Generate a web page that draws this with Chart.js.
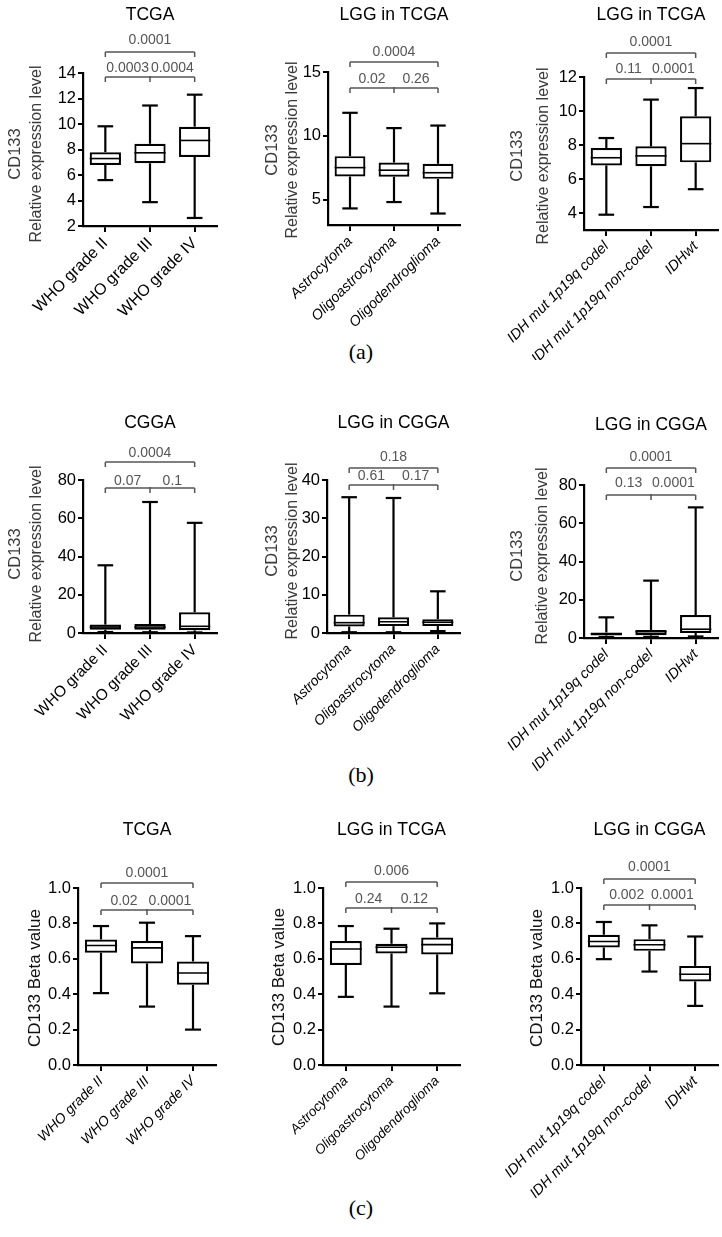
<!DOCTYPE html>
<html>
<head>
<meta charset="utf-8">
<script src="https://cdn.jsdelivr.net/npm/chart.js@4.4.1/dist/chart.umd.min.js"></script>
<style>
  body { margin: 0; background: #fff; }
  #fig { position: relative; width: 722px; height: 1237px; overflow: hidden; }
  #fig canvas { position: absolute; }
  .cap { position: absolute; width: 80px; text-align: center; font-family: 'Liberation Serif', 'Times New Roman', serif; font-size: 22px; color: #000; line-height: 26px; }
</style>
</head>
<body>
<div id="fig">
  <div class="cap" style="left:321px; top:339px;">(a)</div>
  <div class="cap" style="left:321px; top:762px;">(b)</div>
  <div class="cap" style="left:321px; top:1195px;">(c)</div>
</div>
<script>
const FONT = "'Liberation Sans', Arial, sans-serif";

const gradeLabels = ['WHO grade II', 'WHO grade III', 'WHO grade IV'];
const histLabels = ['Astrocytoma', 'Oligoastrocytoma', 'Oligodendroglioma'];
const idhLabels = ['IDH mut 1p19q codel', 'IDH mut 1p19q non-codel', 'IDHwt'];

// (a) expression, TCGA by grade
const a1Min = [5.6, 3.87, 2.63];
const a1Q1 = [6.79, 6.92, 7.42];
const a1Med = [7.29, 7.74, 8.71];
const a1Q3 = [7.79, 8.45, 9.79];
const a1Max = [9.82, 11.45, 12.3];
const a1Ticks = [2, 4, 6, 8, 10, 12, 14];
const a1P = ['0.0003', '0.0004', '0.0001'];

// (a) LGG in TCGA by histology
const a2Min = [4.3, 4.8, 3.9];
const a2Q1 = [6.8, 6.78, 6.62];
const a2Med = [7.5, 7.3, 7.1];
const a2Q3 = [8.4, 7.9, 7.8];
const a2Max = [11.8, 10.6, 10.8];
const a2Ticks = [5, 10, 15];
const a2P = ['0.02', '0.26', '0.0004'];

// (a) LGG in TCGA by IDH / 1p19q
const a3Min = [3.9, 4.35, 5.4];
const a3Q1 = [6.8, 6.75, 6.98];
const a3Med = [7.25, 7.36, 8.08];
const a3Q3 = [7.82, 7.92, 9.69];
const a3Max = [8.41, 10.67, 11.35];
const a3Ticks = [4, 6, 8, 10, 12];
const a3P = ['0.11', '0.0001', '0.0001'];

// (b) expression, CGGA by grade
const b1Min = [0.5, 0.4, 0.3];
const b1Q1 = [1.7, 1.7, 1.4];
const b1Med = [3.1, 3.1, 3.5];
const b1Q3 = [4.4, 4.7, 10.8];
const b1Max = [35.4, 68.5, 57.6];
const b1Ticks = [0, 20, 40, 60, 80];
const b1P = ['0.07', '0.1', '0.0004'];

// (b) LGG in CGGA by histology
const b2Min = [0.2, 0.2, 0.5];
const b2Q1 = [1.7, 1.8, 1.8];
const b2Med = [2.7, 2.95, 2.8];
const b2Q3 = [4.8, 4.1, 3.6];
const b2Max = [35.5, 35.3, 10.9];
const b2Ticks = [0, 10, 20, 30, 40];
const b2P = ['0.61', '0.17', '0.18'];

// (b) LGG in CGGA by IDH / 1p19q
const b3Min = [0.5, 0.6, 0.8];
const b3Q1 = [1.3, 1.4, 2.6];
const b3Med = [2.2, 3.3, 4.6];
const b3Q3 = [2.9, 4.2, 12];
const b3Max = [10.8, 30, 68.3];
const b3Ticks = [0, 20, 40, 60, 80];
const b3P = ['0.13', '0.0001', '0.0001'];

// (c) methylation beta, TCGA by grade
const c1Min = [0.406, 0.33, 0.2];
const c1Q1 = [0.634, 0.574, 0.453];
const c1Med = [0.675, 0.662, 0.52];
const c1Q3 = [0.709, 0.7, 0.585];
const c1Max = [0.785, 0.804, 0.728];
const betaTicks = [0, 0.2, 0.4, 0.6, 0.8, 1.0];
const c1P = ['0.02', '0.0001', '0.0001'];

// (c) LGG in TCGA by histology
const c2Min = [0.385, 0.33, 0.405];
const c2Q1 = [0.565, 0.63, 0.625];
const c2Med = [0.655, 0.665, 0.68];
const c2Q3 = [0.7, 0.685, 0.72];
const c2Max = [0.785, 0.77, 0.8];
const c2P = ['0.24', '0.12', '0.006'];

// (c) LGG in CGGA by IDH / 1p19q
const c3Min = [0.598, 0.528, 0.334];
const c3Q1 = [0.664, 0.645, 0.472];
const c3Med = [0.698, 0.679, 0.513];
const c3Q3 = [0.736, 0.711, 0.56];
const c3Max = [0.808, 0.789, 0.726];
const c3P = ['0.002', '0.0001', '0.0001'];

const exprTitle = ['CD133', 'Relative expression level'];
const betaTitle = ['CD133 Beta value'];

// layout: canvas box, plot area [left,right,top,bottom], text positions (page px)
const panels = [
  { left: 0, top: 0, w: 240, h: 360, area: [83, 217, 73, 226], title: 'TCGA', titleY: 15,
    labels: gradeLabels, italic: false, xFont: 16, yMin: 2, yMax: 14, ticks: a1Ticks, digits: 0,
    min: a1Min, q1: a1Q1, med: a1Med, q3: a1Q3, max: a1Max, p: a1P, brk: [40, 52, 68, 77],
    yTitle: exprTitle, yTitleX: [15, 37], yTitleY: 154 },
  { left: 240, top: 0, w: 240, h: 360, area: [328, 460, 72, 225], title: 'LGG in TCGA', titleY: 15,
    labels: histLabels, italic: true, xFont: 14.5, yMin: 3, yMax: 15, ticks: a2Ticks, digits: 0,
    min: a2Min, q1: a2Q1, med: a2Med, q3: a2Q3, max: a2Max, p: a2P, brk: [52, 62, 79, 88],
    yTitle: exprTitle, yTitleX: [272, 293], yTitleY: 150 },
  { left: 480, top: 0, w: 242, h: 360, area: [584, 718, 77, 230], title: 'LGG in TCGA', titleY: 15,
    labels: idhLabels, italic: true, xFont: 14.5, yMin: 3, yMax: 12, ticks: a3Ticks, digits: 0,
    min: a3Min, q1: a3Q1, med: a3Med, q3: a3Q3, max: a3Max, p: a3P, brk: [42, 53, 69, 79],
    yTitle: exprTitle, yTitleX: [517, 544], yTitleY: 156 },
  { left: 0, top: 400, w: 240, h: 380, area: [83, 217, 480, 633], title: 'CGGA', titleY: 423,
    labels: gradeLabels, italic: false, xFont: 15.5, yMin: 0, yMax: 80, ticks: b1Ticks, digits: 0,
    min: b1Min, q1: b1Q1, med: b1Med, q3: b1Q3, max: b1Max, p: b1P, brk: [453, 462, 481, 488],
    yTitle: exprTitle, yTitleX: [15, 37], yTitleY: 554 },
  { left: 240, top: 400, w: 240, h: 380, area: [327, 460, 480, 633], title: 'LGG in CGGA', titleY: 423,
    labels: histLabels, italic: true, xFont: 14, yMin: 0, yMax: 40, ticks: b2Ticks, digits: 0,
    min: b2Min, q1: b2Q1, med: b2Med, q3: b2Q3, max: b2Max, p: b2P, brk: [457, 468, 476, 485],
    yTitle: exprTitle, yTitleX: [272, 293], yTitleY: 551 },
  { left: 480, top: 400, w: 242, h: 380, area: [584, 718, 485, 638], title: 'LGG in CGGA', titleY: 425,
    labels: idhLabels, italic: true, xFont: 14.5, yMin: 0, yMax: 80, ticks: b3Ticks, digits: 0,
    min: b3Min, q1: b3Q1, med: b3Med, q3: b3Q3, max: b3Max, p: b3P, brk: [457, 468, 483, 495],
    yTitle: exprTitle, yTitleX: [517, 543], yTitleY: 556 },
  { left: 0, top: 820, w: 240, h: 390, area: [78, 216, 888, 1065], title: 'TCGA', titleY: 830,
    labels: gradeLabels, italic: true, xFont: 14, yMin: 0, yMax: 1, ticks: betaTicks, digits: 1,
    min: c1Min, q1: c1Q1, med: c1Med, q3: c1Q3, max: c1Max, p: c1P, brk: [873, 883, 901, 910],
    yTitle: betaTitle, yTitleX: [35], yTitleY: 978 },
  { left: 240, top: 820, w: 240, h: 390, area: [323, 460, 888, 1065], title: 'LGG in TCGA', titleY: 830,
    labels: histLabels, italic: true, xFont: 13.5, yMin: 0, yMax: 1, ticks: betaTicks, digits: 1,
    min: c2Min, q1: c2Q1, med: c2Med, q3: c2Q3, max: c2Max, p: c2P, brk: [871, 882, 899, 908],
    yTitle: betaTitle, yTitleX: [279], yTitleY: 977 },
  { left: 480, top: 820, w: 242, h: 390, area: [581, 718, 888, 1065], title: 'LGG in CGGA', titleY: 830,
    labels: idhLabels, italic: true, xFont: 14.5, yMin: 0, yMax: 1, ticks: betaTicks, digits: 1,
    min: c3Min, q1: c3Q1, med: c3Med, q3: c3Q3, max: c3Max, p: c3P, brk: [867, 879, 895, 905],
    yTitle: betaTitle, yTitleX: [537], yTitleY: 978 }
];

function line(ctx, x1, y1, x2, y2) {
  ctx.beginPath();
  ctx.moveTo(x1, y1);
  ctx.lineTo(x2, y2);
  ctx.stroke();
}

// whiskers, medians, titles and significance brackets
function decor(pn) {
  return {
    id: 'decor',
    afterDraw(chart) {
      const ctx = chart.ctx;
      const ys = chart.scales.y;
      const xs = chart.scales.x;
      const bars = chart.getDatasetMeta(0).data;
      ctx.save();
      ctx.strokeStyle = '#000';
      bars.forEach((bar, i) => {
        const x = bar.x;
        const half = bar.width / 2;
        const cap = bar.width / 4;
        const yTop = ys.getPixelForValue(pn.max[i]);
        const yQ3 = ys.getPixelForValue(pn.q3[i]);
        const yQ1 = ys.getPixelForValue(pn.q1[i]);
        const yLow = ys.getPixelForValue(pn.min[i]);
        const yMed = ys.getPixelForValue(pn.med[i]);
        ctx.lineWidth = 2.2;
        line(ctx, x, yQ3, x, yTop);
        line(ctx, x - cap, yTop, x + cap, yTop);
        line(ctx, x, yQ1, x, yLow);
        line(ctx, x - cap, yLow, x + cap, yLow);
        ctx.lineWidth = 1.6;
        line(ctx, x - half, yMed, x + half, yMed);
      });

      const ox = pn.left, oy = pn.top;
      const ca = chart.chartArea;

      // panel title
      ctx.fillStyle = '#000';
      ctx.font = '17.5px ' + FONT;
      ctx.textAlign = 'center';
      ctx.textBaseline = 'middle';
      ctx.fillText(pn.title, (ca.left + ca.right) / 2, pn.titleY - oy);

      // y axis title
      ctx.fillStyle = pn.yTitle.length > 1 ? '#3a3a3a' : '#111';
      pn.yTitle.forEach((t, k) => {
        ctx.save();
        ctx.translate(pn.yTitleX[k] - ox, pn.yTitleY - oy);
        ctx.rotate(-Math.PI / 2);
        ctx.font = (pn.yTitle.length > 1 ? (k === 0 ? '16.5px ' : '16px ') : '17px ') + FONT;
        ctx.fillText(t, 0, 0);
        ctx.restore();
      });

      // brackets
      const x1 = xs.getPixelForValue(0);
      const x2 = xs.getPixelForValue(1);
      const x3 = xs.getPixelForValue(2);
      const [tText, tLine, lText, lLine] = pn.brk.map(v => v - oy);
      ctx.strokeStyle = '#555';
      ctx.lineWidth = 1.5;
      line(ctx, x1, tLine, x3, tLine);
      line(ctx, x1, tLine, x1, tLine + 5);
      line(ctx, x3, tLine, x3, tLine + 5);
      line(ctx, x1, lLine, x3, lLine);
      line(ctx, x1, lLine, x1, lLine + 5);
      line(ctx, x2, lLine - 1, x2, lLine + 5);
      line(ctx, x3, lLine, x3, lLine + 5);
      ctx.fillStyle = '#555';
      ctx.font = '14px ' + FONT;
      ctx.fillText(pn.p[2], (x1 + x3) / 2, tText);
      ctx.fillText(pn.p[0], (x1 + x2) / 2, lText);
      ctx.fillText(pn.p[1], (x2 + x3) / 2, lText);
      ctx.restore();
    }
  };
}

const fig = document.getElementById('fig');

panels.forEach(pn => {
  const cv = document.createElement('canvas');
  cv.width = pn.w;
  cv.height = pn.h;
  cv.style.left = pn.left + 'px';
  cv.style.top = pn.top + 'px';
  fig.appendChild(cv);
  const [L, R, T, B] = pn.area;

  new Chart(cv, {
    type: 'bar',
    data: {
      labels: pn.labels,
      datasets: [{
        data: pn.q1.map((v, i) => [v, pn.q3[i]]),
        backgroundColor: '#ffffff',
        borderColor: '#000',
        borderWidth: 2.2,
        borderSkipped: false,
        barPercentage: 0.7,
        categoryPercentage: 1
      }]
    },
    options: {
      responsive: false,
      animation: false,
      devicePixelRatio: 1,
      layout: { padding: { left: 0, top: T - pn.top, right: pn.left + pn.w - R, bottom: 0 } },
      plugins: { legend: { display: false }, tooltip: { enabled: false }, title: { display: false } },
      scales: {
        x: {
          grid: { display: true, drawOnChartArea: false, offset: false, tickLength: 6, lineWidth: 2, color: '#000' },
          border: { display: true, width: 2.2, color: '#000' },
          ticks: {
            autoSkip: false, minRotation: 45, maxRotation: 45, padding: 2, color: '#000',
            font: { family: FONT, size: pn.xFont, style: pn.italic ? 'italic' : 'normal' }
          },
          afterFit: s => {
            s.height = pn.top + pn.h - B;
            s.paddingLeft = s.paddingRight = s.paddingTop = s.paddingBottom = 0;
          }
        },
        y: {
          min: pn.yMin,
          max: pn.yMax,
          grid: { display: true, drawOnChartArea: false, tickLength: 5, lineWidth: 2, color: '#000' },
          border: { display: true, width: 2.2, color: '#000' },
          ticks: {
            padding: 2, color: '#000', font: { family: FONT, size: 16.5 },
            callback: v => Number(v).toFixed(pn.digits)
          },
          afterBuildTicks: s => { s.ticks = pn.ticks.map(v => ({ value: v })); },
          afterFit: s => {
            s.width = L - pn.left;
            s.paddingLeft = s.paddingRight = s.paddingTop = s.paddingBottom = 0;
          }
        }
      }
    },
    plugins: [decor(pn)]
  });
});
</script>
</body>
</html>
